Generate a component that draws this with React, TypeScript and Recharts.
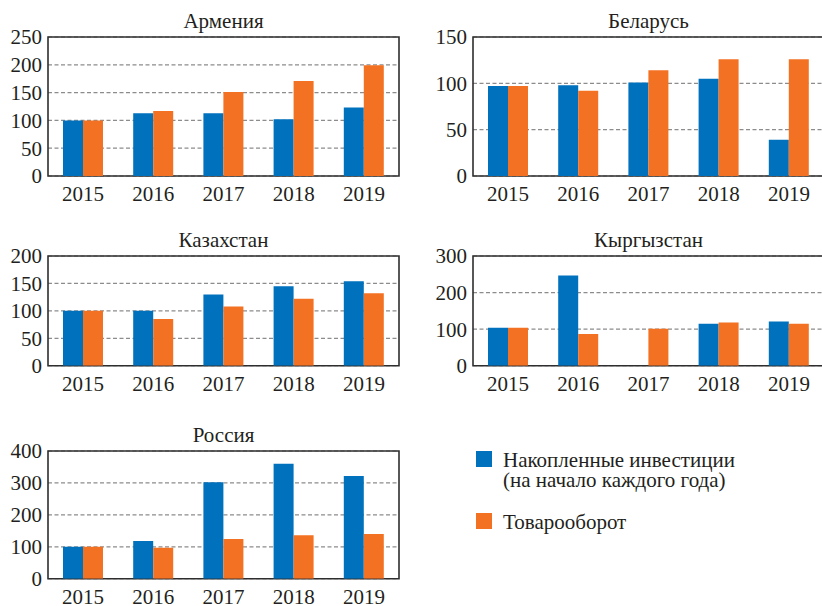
import React from 'react';
import { BarChart, Bar, XAxis, YAxis, CartesianGrid, ReferenceArea } from 'recharts';

const years = ['2015', '2016', '2017', '2018', '2019'];

const armeniaInvest = [100, 113, 113, 102, 123];
const armeniaTrade = [100, 117, 151, 171, 199];
const armeniaTicks = [0, 50, 100, 150, 200, 250];

const belarusInvest = [97, 98, 101, 105, 39];
const belarusTrade = [97, 92, 114, 126, 126];
const belarusTicks = [0, 50, 100, 150];

const kazakhstanInvest = [100, 100, 130, 145, 154];
const kazakhstanTrade = [100, 85, 108, 122, 132];
const kazakhstanTicks = [0, 50, 100, 150, 200];

const kyrgyzstanInvest: (number | null)[] = [104, 247, null, 115, 121];
const kyrgyzstanTrade = [104, 87, 101, 118, 115];
const kyrgyzstanTicks = [0, 100, 200, 300];

const russiaInvest = [100, 118, 302, 360, 322];
const russiaTrade = [100, 97, 124, 136, 140];
const russiaTicks = [0, 100, 200, 300, 400];

const legendLines = ['Накопленные инвестиции', '(на начало каждого года)', 'Товарооборот'];

const BLUE = '#0071BC';
const ORANGE = '#F37122';
const FONT = '"Liberation Serif", serif';
const TICK_FONT = 21;
const TEXT_COLOR = '#231f20';

type PanelProps = {
  title: string;
  left: number;
  top: number;
  width: number;
  height: number;
  plotTop: number;
  plotBottom: number;
  yWidth: number;
  rightMargin: number;
  invest: (number | null)[];
  trade: number[];
  ticks: number[];
  xTickMargin?: number;
};

function Panel(p: PanelProps) {
  const data = years.map((y, i) => ({ year: y, invest: p.invest[i], trade: p.trade[i] }));
  const xHeight = p.height - p.plotBottom;
  const max = p.ticks[p.ticks.length - 1];
  const plotLeft = p.yWidth;
  const plotWidth = p.width - p.yWidth - p.rightMargin;
  return (
    <div style={{ position: 'absolute', left: p.left, top: p.top, width: p.width, height: p.height }}>
      <div
        style={{
          position: 'absolute',
          left: plotLeft,
          width: plotWidth,
          top: p.plotTop - 26,
          textAlign: 'center',
          fontFamily: FONT,
          fontSize: 21,
          lineHeight: '21px',
          color: TEXT_COLOR,
          whiteSpace: 'nowrap',
        }}
      >
        {p.title}
      </div>
      <BarChart
        width={p.width}
        height={p.height}
        data={data}
        margin={{ top: p.plotTop, right: p.rightMargin, left: 0, bottom: 0 }}
        barSize={20}
        barGap={0}
        style={{ position: 'absolute', left: 0, top: 0, fontFamily: FONT }}
      >
        <CartesianGrid vertical={false} stroke="#8c8c8c" strokeDasharray="4 2.5" strokeWidth={1.2} />
        <XAxis
          dataKey="year"
          height={xHeight}
          axisLine={false}
          tickLine={false}
          tickSize={0}
          tickMargin={p.xTickMargin ?? 10}
          interval={0}
          tick={{ fontFamily: FONT, fontSize: TICK_FONT, fill: TEXT_COLOR }}
        />
        <YAxis
          width={p.yWidth}
          domain={[0, max]}
          ticks={p.ticks}
          interval={0}
          axisLine={false}
          tickLine={false}
          tickSize={0}
          tickMargin={6}
          allowDataOverflow
          tick={{ fontFamily: FONT, fontSize: TICK_FONT, fill: TEXT_COLOR }}
        />
        <Bar dataKey="invest" fill={BLUE} isAnimationActive={false} />
        <Bar dataKey="trade" fill={ORANGE} isAnimationActive={false} />
        <ReferenceArea
          y1={0}
          y2={max}
          fill="none"
          fillOpacity={0}
          stroke="#2e2e2e"
          strokeWidth={1.6}
          ifOverflow="visible"
        />
      </BarChart>
    </div>
  );
}

function Legend() {
  const text: React.CSSProperties = {
    position: 'absolute',
    fontFamily: FONT,
    fontSize: 21,
    lineHeight: '20px',
    color: TEXT_COLOR,
    whiteSpace: 'nowrap',
    left: 503,
  };
  return (
    <>
      <div style={{ position: 'absolute', left: 476, top: 451, width: 16, height: 16, background: BLUE }} />
      <div style={{ ...text, top: 450 }}>{legendLines[0]}</div>
      <div style={{ ...text, top: 470 }}>{legendLines[1]}</div>
      <div style={{ position: 'absolute', left: 476, top: 513, width: 16, height: 16, background: ORANGE }} />
      <div style={{ ...text, top: 512 }}>{legendLines[2]}</div>
    </>
  );
}

export default function App() {
  return (
    <div
      style={{
        position: 'absolute',
        left: 0,
        top: 0,
        width: 822,
        height: 606,
        overflow: 'hidden',
        background: '#fff',
        fontFamily: FONT,
      }}
    >
      <Panel
        title="Армения"
        left={0}
        top={0}
        width={410}
        height={210}
        plotTop={37}
        plotBottom={176}
        yWidth={48}
        rightMargin={11}
        invest={armeniaInvest}
        trade={armeniaTrade}
        ticks={armeniaTicks}
      />
      <Panel
        title="Беларусь"
        left={410}
        top={0}
        width={414}
        height={210}
        plotTop={37}
        plotBottom={176}
        yWidth={63}
        rightMargin={0}
        invest={belarusInvest}
        trade={belarusTrade}
        ticks={belarusTicks}
      />
      <Panel
        title="Казахстан"
        left={0}
        top={220}
        width={410}
        height={190}
        plotTop={36}
        plotBottom={145.7}
        yWidth={48}
        rightMargin={11}
        invest={kazakhstanInvest}
        trade={kazakhstanTrade}
        ticks={kazakhstanTicks}
      />
      <Panel
        title="Кыргызстан"
        left={410}
        top={220}
        width={414}
        height={190}
        plotTop={36}
        plotBottom={145.7}
        yWidth={63}
        rightMargin={0}
        invest={kyrgyzstanInvest}
        trade={kyrgyzstanTrade}
        ticks={kyrgyzstanTicks}
      />
      <Panel
        title="Россия"
        left={0}
        top={415}
        width={410}
        height={191}
        plotTop={36}
        plotBottom={163.7}
        yWidth={48}
        rightMargin={11}
        invest={russiaInvest}
        trade={russiaTrade}
        ticks={russiaTicks}
        xTickMargin={10}
      />
      <Legend />
    </div>
  );
}
